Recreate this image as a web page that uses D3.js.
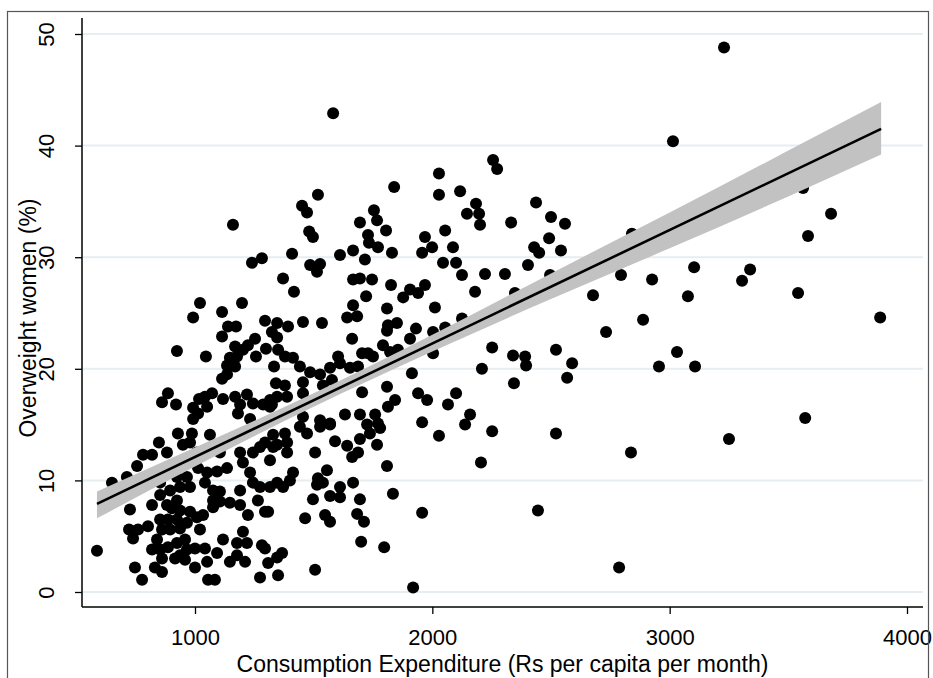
<!DOCTYPE html>
<html>
<head>
<meta charset="utf-8">
<script src="https://cdn.jsdelivr.net/npm/d3@7"></script>
<style>
  body { margin: 0; background: #fff; }
  svg { display: block; }
  text { font-family: "Liberation Sans", Arial, sans-serif; }
</style>
</head>
<body>
<svg width="933" height="678"></svg>
<script>
// district points: [consumption expenditure (Rs/capita/month), overweight women (%)]
const points = [
  [1021,25.9],[992,24.6],[1114,25.1],[1198,25.9],[1295,24.3],[1346,24.1],[1139,23.8],[1173,23.8],[1114,22.9],[1324,23.3],
  [1346,22.8],[1253,22.7],[1223,22.1],[1169,22.0],[1202,21.7],[1299,21.8],[1350,21.7],[924,21.6],[1046,21.1],[1257,21.1],
  [1147,21.0],[1177,21.1],[1135,20.3],[1169,20.2],[1333,20.2],[1135,19.5],[1114,19.1],[1341,18.7],[886,17.8],[861,17.0],
  [920,16.8],[1072,17.8],[1042,17.5],[1017,17.3],[1118,17.3],[1169,17.5],[1219,17.7],[1244,16.9],[1287,16.8],[1324,16.8],
  [1190,16.8],[992,16.5],[1051,16.6],[1013,16.0],[1181,16.0],[992,15.5],[1232,15.5],[928,14.2],[987,14.2],[1063,14.1],
  [979,13.4],[848,13.4],[949,13.2],[1329,14.1],[1295,13.4],[1346,13.2],
  [781,12.3],[819,12.3],[882,12.5],[756,11.3],[650,9.8],[713,10.3],[726,7.4],[587,3.7],[722,5.6],[760,5.6],
  [739,4.8],[802,5.9],[819,7.8],[853,8.7],[882,7.8],[903,7.5],[853,6.5],[886,6.5],[924,6.5],[861,5.6],
  [895,5.6],[937,5.7],[966,6.2],[979,7.2],[937,7.3],[1008,6.7],[1021,5.6],[840,4.7],[819,3.8],[853,3.8],
  [886,4.0],[924,4.4],[958,4.7],[966,3.8],[1000,3.9],[1042,3.9],[937,3.3],[861,3.0],[831,2.2],[861,1.8],
  [747,2.2],[777,1.1],[916,3.0],[958,2.9],[1000,2.2],[1051,2.7],[1093,3.5],[1118,4.7],[1055,1.1],[1084,1.1],
  [1147,2.7],[1177,3.3],[1211,2.7],[1219,4.4],[1177,4.4],[1202,5.4],[1282,4.2],[1295,3.9],[1274,1.3],[1308,2.6],
  [1346,3.1],[1350,1.5],[1034,6.9],[1076,7.6],[1076,8.2],[1105,8.1],[1147,8.0],[1190,7.8],[1223,6.9],[1265,8.2],
  [1295,7.2],[1308,7.2],[1105,9.0],[1076,9.1],[1190,9.1],[1042,9.8],[979,9.4],[937,9.4],[895,9.1],[924,8.2],
  [853,9.8],[1274,9.4],[1316,9.4],[1346,9.8],[1232,10.7],[1244,9.8],[1202,11.6],[1135,11.1],[1093,10.8],[1051,10.7],
  [1013,11.1],[1244,12.5],[1316,11.8],[1329,13.0],[1274,13.0],[1190,12.5],[1105,12.5],[1008,12.5],[924,10.3],[966,10.3],
  [1582,42.9],[1518,35.6],[1451,34.6],[1472,34.0],[1481,32.3],[1497,31.8],[1409,30.3],[1485,29.3],[1527,29.4],[1611,30.2],
  [1666,30.6],[1716,29.8],[1695,33.1],[1729,32.0],[1733,31.3],[1754,34.2],[1767,33.3],[1805,32.4],[1771,30.9],[1830,30.4],
  [1839,36.3],[1957,30.4],[1969,31.8],[1999,30.9],[2028,37.5],[2028,35.6],[2054,32.4],[2087,30.9],[2045,29.5],[2100,29.5],
  [2117,35.9],[2146,33.9],
  [1514,28.7],[1371,28.1],[1417,26.9],[1666,28.0],[1695,28.1],[1746,28.0],[1721,26.5],[1826,27.5],[1877,26.4],[1906,27.1],
  [1940,26.8],[1969,27.5],[2125,28.4],[2011,25.5],[1809,25.4],[1666,25.7],[1641,24.6],[1683,24.7],[1392,23.8],[1455,24.2],
  [1535,24.1],[1662,22.7],[1813,23.9],[1851,24.1],[1809,23.4],[1792,22.1],[1931,23.6],[1906,22.7],[2003,23.3],[2125,24.5],
  [2054,23.7],[1379,21.1],[1413,21.0],[1442,20.2],[1485,19.7],[1527,19.5],[1569,20.1],[1603,21.1],[1611,20.5],[1653,20.1],
  [1687,20.2],[1704,21.4],[1729,21.4],[1750,21.1],[1822,21.5],[1855,21.7],[2003,21.4],[1914,19.6],[1379,18.5],[1346,17.5],
  [1388,17.5],[1455,18.8],[1455,17.8],[1539,18.5],[1577,19.0],[1704,17.9],[1809,18.4],[1843,17.2],[1813,16.6],[1940,17.8],
  [1978,17.2],[2066,16.8],[2100,17.8],[2159,15.9],[1957,15.2],[2138,15.0],[1632,15.9],[1695,15.9],[1759,15.9],[1771,15.1],
  [1316,16.6],[1316,17.2],[1455,15.7],[1527,15.4],[1569,15.1],
  [2028,14.0],[1590,13.5],[1641,13.1],[1695,13.7],[1767,13.2],[1662,12.1],[1687,12.5],[1506,12.5],[1809,11.3],[1556,10.9],
  [1413,10.7],[1518,10.2],[1539,9.8],[1514,9.6],[1666,9.8],[1611,9.4],[1611,8.5],[1569,8.6],[1497,8.3],[1695,8.3],
  [1834,8.8],[1957,7.1],[1464,6.6],[1548,6.9],[1569,6.3],[1683,7.0],[1712,6.3],[1700,4.5],[1797,4.0],[1506,2.0],
  [1367,3.5],[1919,0.4],[1371,9.4],[1400,10.0],[1388,12.5],[1388,13.4],[1379,14.2],[1442,14.8],[1472,14.2],[1527,14.8],
  [1569,15.0],[1725,15.0],[1780,14.7],[1737,14.2],
  [2256,38.7],[2273,37.9],[2184,34.8],[2197,33.9],[2201,32.9],[2332,33.1],[2437,34.9],[2500,33.6],[2559,33.0],[2492,31.7],
  [2429,30.9],[2450,30.4],[2542,30.6],[2403,29.3],[2222,28.5],[2306,28.5],[2795,28.4],[2926,28.0],[2841,32.1],[2496,28.4],
  [2180,26.9],[2348,26.8],[2677,26.6],[2888,24.4],[2732,23.3],[2252,21.9],[2340,21.2],[2391,21.1],[2395,20.3],[2521,21.7],
  [2589,20.5],[2568,19.2],[2209,20.0],[2344,18.7],[2252,14.4],[2521,14.2],[2205,11.6],[2837,12.5],[2955,20.2],
  [2445,7.3],[2787,2.2],
  [3229,48.8],[3014,40.4],[3562,36.2],[3680,33.9],[3583,31.9],[3103,29.1],[3339,28.9],[3305,27.9],[3077,26.5],[3541,26.8],
  [3887,24.6],[3031,21.5],[3107,20.2],[3571,15.6],[3250,13.7],
  [1160,32.9],[1240,29.5],[1282,29.9]
];

const xTicks = [1000, 2000, 3000, 4000];
const yTicks = [0, 10, 20, 30, 40, 50];

// linear fit and its 95% CI
const fitX = [587, 3891];
const fitY = [7.9, 41.5];
const bandX = [587, 1000, 1500, 2000, 2500, 3000, 3500, 3891];
const bandLow = [6.6, 11.25, 16.6, 21.55, 26.25, 30.8, 35.45, 39.2];
const bandHigh = [9.0, 12.95, 17.8, 23.05, 28.55, 34.0, 39.55, 43.9];

const svg = d3.select("svg");
const plotLeft = 82, plotRight = 923, plotTop = 18, plotBottom = 607;

const x = d3.scaleLinear().domain([1000, 4000]).range([195, 907]);
const y = d3.scaleLinear().domain([0, 50]).range([592, 34]);

// grid
svg.append("g").selectAll("line").data(yTicks).enter().append("line")
  .attr("x1", plotLeft).attr("x2", plotRight)
  .attr("y1", d => y(d)).attr("y2", d => y(d))
  .attr("stroke", "#e6eef1").attr("stroke-width", 2);

// scatter
svg.append("g").selectAll("circle").data(points).enter().append("circle")
  .attr("cx", d => x(d[0]))
  .attr("cy", d => y(d[1]))
  .attr("r", 6)
  .attr("fill", "#000");

// confidence band
const bandData = bandX.map((v, i) => ({ x: v, lo: bandLow[i], hi: bandHigh[i] }));
svg.append("path")
  .datum(bandData)
  .attr("fill", "#c2c2c2")
  .attr("d", d3.area()
    .x(d => x(d.x)).y0(d => y(d.lo)).y1(d => y(d.hi))
    .curve(d3.curveMonotoneX));

// fitted line
svg.append("path")
  .datum(fitX.map((v, i) => [v, fitY[i]]))
  .attr("fill", "none").attr("stroke", "#000").attr("stroke-width", 2.6)
  .attr("d", d3.line().x(d => x(d[0])).y(d => y(d[1])));

// axes
const xAxis = svg.append("g")
  .attr("transform", `translate(0,${plotBottom})`)
  .call(d3.axisBottom(x).tickValues(xTicks).tickFormat(d3.format("d"))
    .tickSize(7).tickPadding(15).tickSizeOuter(0));
xAxis.select(".domain").attr("d", `M${plotLeft},0H${plotRight}`).attr("stroke-width", 1.5);
xAxis.selectAll("line").attr("stroke-width", 1.3);
xAxis.selectAll("text").attr("font-size", 22).attr("fill", "#000")
  .attr("font-family", "Liberation Sans, Arial, sans-serif");

const yAxis = svg.append("g")
  .attr("transform", `translate(${plotLeft},0)`)
  .call(d3.axisLeft(y).tickValues(yTicks).tickSize(7).tickSizeOuter(0));
yAxis.select(".domain").attr("d", `M0,${plotTop}V${plotBottom}`).attr("stroke-width", 1.5);
yAxis.selectAll("line").attr("stroke-width", 1.3);
yAxis.selectAll("text")
  .attr("font-size", 22).attr("fill", "#000")
  .attr("font-family", "Liberation Sans, Arial, sans-serif")
  .attr("x", 0).attr("dy", 0)
  .attr("text-anchor", "middle")
  .attr("transform", "translate(-28,0) rotate(-90)");

// titles
svg.append("text")
  .attr("x", (plotLeft + plotRight) / 2).attr("y", 672)
  .attr("text-anchor", "middle").attr("font-size", 23)
  .text("Consumption Expenditure (Rs per capita per month)");

svg.append("text")
  .attr("transform", `translate(36,318) rotate(-90)`)
  .attr("text-anchor", "middle").attr("font-size", 23)
  .text("Overweight women (%)");

// outer frame
svg.append("rect")
  .attr("x", 7.5).attr("y", 11.5)
  .attr("width", 921).attr("height", 700)
  .attr("fill", "none").attr("stroke", "#555").attr("stroke-width", 1.2);
</script>
</body>
</html>
